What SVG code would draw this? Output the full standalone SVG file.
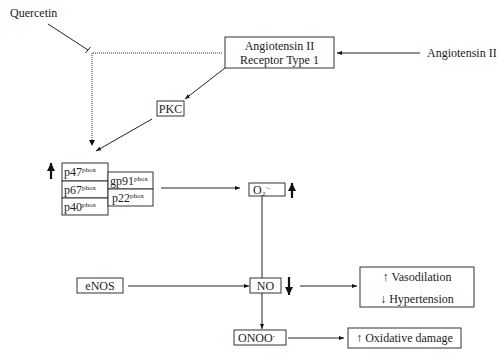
<svg xmlns="http://www.w3.org/2000/svg" width="499" height="353" viewBox="0 0 499 353">
<style>
text{font-family:"Liberation Serif","Times New Roman",serif;font-size:12px;fill:#222}
.box{fill:#fff;stroke:#333;stroke-width:1}
.c{fill:none;stroke:#222;stroke-width:1}
.dot{fill:none;stroke:#333;stroke-width:1;stroke-dasharray:1 1}
.thick{fill:none;stroke:#111;stroke-width:2.2}
.sup{font-size:7px}
.m{text-anchor:middle}
</style>
<defs>
<marker id="ah" viewBox="0 0 10 10" refX="10" refY="5" markerWidth="5" markerHeight="5" orient="auto" markerUnits="userSpaceOnUse"><path d="M0,1 L10,5 L0,9 Z" fill="#111"/></marker>
<marker id="big" viewBox="0 0 10 10" refX="10" refY="5" markerWidth="8" markerHeight="8" orient="auto" markerUnits="userSpaceOnUse"><path d="M0,0 L10,5 L0,10 Z" fill="#111"/></marker>
</defs>
<g id="connectors">
<path class="c" d="M48,24 L88,50"/>
<path class="c" d="M85.5,53 L90.5,47"/>
<path class="dot" d="M222,53 L92,53 L92,145"/>
<path d="M89,140 L92,146 L95,140 Z" fill="#111"/>
<path class="c" d="M420,53 L337,53" marker-end="url(#ah)"/>
<path class="c" d="M225,68 L185,99" marker-end="url(#ah)"/>
<path class="c" d="M152,119 L96,151" marker-end="url(#ah)"/>
<path class="c" d="M161,188 L240,188" marker-end="url(#ah)"/>
<path class="c" d="M262,196 L262,278"/>
<path class="c" d="M262,293 L262,329" marker-end="url(#ah)"/>
<path class="c" d="M128,286 L249,286" marker-end="url(#ah)"/>
<path class="c" d="M300,286 L357,286" marker-end="url(#ah)"/>
<path class="c" d="M288,338 L344,338" marker-end="url(#ah)"/>
<path class="thick" d="M51,179 L51,163" marker-end="url(#big)"/>
<path class="thick" d="M292,198 L292,183" marker-end="url(#big)"/>
<path class="thick" d="M289,277 L289,295" marker-end="url(#big)"/>
</g>
<g id="quercetin"><text x="10" y="17">Quercetin</text></g>
<g id="angiotensin"><text x="427" y="57">Angiotensin II</text></g>
<g id="receptor">
<rect class="box" x="225" y="37" width="109" height="31"/>
<text class="m" x="279.5" y="50">Angiotensin II</text>
<text class="m" x="279.5" y="64">Receptor Type 1</text>
</g>
<g id="pkc">
<rect class="box" x="157" y="101" width="27" height="15"/>
<text class="m" x="170.5" y="113">PKC</text>
</g>
<g id="p47">
<rect class="box" x="62" y="163" width="46" height="18"/>
<text x="64" y="176">p47<tspan class="sup" dy="-4">phox</tspan></text>
</g>
<g id="p67">
<rect class="box" x="62" y="181" width="46" height="17"/>
<text x="64" y="194">p67<tspan class="sup" dy="-4">phox</tspan></text>
</g>
<g id="p40">
<rect class="box" x="62" y="198" width="46" height="17"/>
<text x="64" y="211">p40<tspan class="sup" dy="-4">phox</tspan></text>
</g>
<g id="gp91">
<rect class="box" x="108" y="172" width="45" height="17"/>
<text x="110" y="185">gp91<tspan class="sup" dy="-4">phox</tspan></text>
</g>
<g id="p22">
<rect class="box" x="108" y="189" width="45" height="17"/>
<text x="112" y="202">p22<tspan class="sup" dy="-4">phox</tspan></text>
</g>
<g id="o2">
<rect class="box" x="249" y="183" width="36" height="13"/>
<text x="253" y="194">O<tspan class="sup" dy="2">2</tspan><tspan class="sup" dy="-6">·-</tspan></text>
</g>
<g id="enos">
<rect class="box" x="77" y="278" width="46" height="15"/>
<text class="m" x="100" y="290">eNOS</text>
</g>
<g id="no">
<rect class="box" x="250" y="278" width="31" height="15"/>
<text class="m" x="265.5" y="290">NO</text>
</g>
<g id="onoo">
<rect class="box" x="234" y="330" width="52" height="15"/>
<text x="238" y="342">ONOO<tspan class="sup" dy="-4">-</tspan></text>
</g>
<g id="vaso">
<rect class="box" x="360" y="267" width="114" height="40"/>
<text class="m" x="417" y="281">↑ Vasodilation</text>
<text class="m" x="417" y="303">↓ Hypertension</text>
</g>
<g id="oxid">
<rect class="box" x="348" y="328" width="113" height="20"/>
<text class="m" x="404.5" y="342">↑ Oxidative damage</text>
</g>
</svg>
